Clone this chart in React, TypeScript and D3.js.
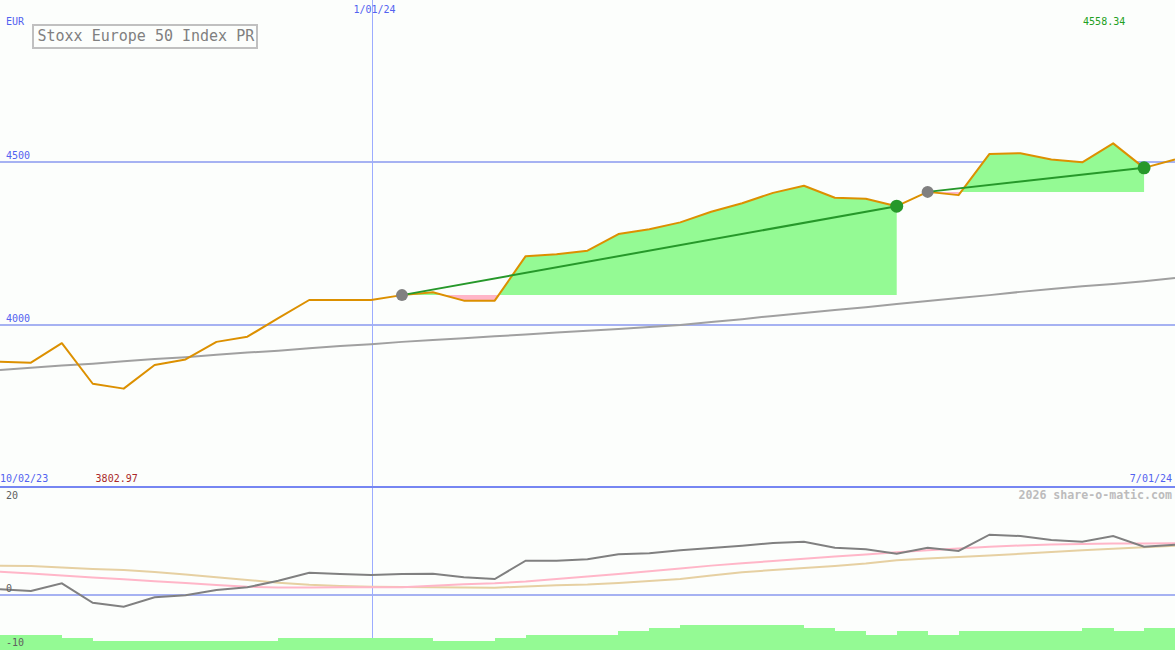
import React from 'react';
import * as d3 from 'd3';

const W = 1175;
const H = 650;

// weekly closes, Stoxx Europe 50 Index PR
const price = [3886, 3883, 3943, 3818, 3802.97, 3876, 3893, 3947, 3963, 4020, 4076, 4076, 4076, 4091, 4100, 4074, 4074, 4211, 4217, 4228, 4279, 4294, 4315, 4348, 4374, 4406, 4428, 4391, 4388, 4365, 4409, 4399, 4526, 4528, 4509, 4500, 4558.34, 4483, 4509];
// long moving average (grey)
const longMa = [3860, 3867, 3874, 3880, 3887, 3894, 3900, 3907, 3914, 3920, 3927, 3934, 3940, 3947, 3953, 3958, 3964, 3970, 3976, 3981, 3987, 3993, 3999, 4008, 4017, 4027, 4036, 4045, 4054, 4064, 4073, 4082, 4091, 4101, 4110, 4118, 4125, 4134, 4144];

// lower panel
const momentum = [1.06, 0.74, 2.17, -1.43, -2.17, -0.43, -0.06, 0.93, 1.43, 2.65, 4.13, 3.89, 3.7, 3.89, 3.94, 3.28, 2.96, 6.35, 6.35, 6.61, 7.54, 7.72, 8.28, 8.7, 9.13, 9.63, 9.87, 8.76, 8.46, 7.65, 8.76, 8.15, 11.17, 10.93, 10.19, 9.87, 10.93, 8.94, 9.31];
const signalPink = [4.31, 3.96, 3.61, 3.26, 2.91, 2.56, 2.22, 1.85, 1.52, 1.39, 1.39, 1.43, 1.43, 1.43, 1.72, 1.98, 2.17, 2.5, 2.96, 3.43, 3.89, 4.39, 4.91, 5.44, 5.87, 6.3, 6.7, 7.11, 7.52, 7.91, 8.28, 8.63, 8.94, 9.17, 9.33, 9.44, 9.52, 9.56, 9.57];
const signalTan = [5.43, 5.37, 5.09, 4.81, 4.63, 4.26, 3.8, 3.28, 2.78, 2.28, 1.91, 1.67, 1.54, 1.48, 1.43, 1.39, 1.35, 1.57, 1.8, 1.94, 2.22, 2.59, 2.96, 3.61, 4.2, 4.63, 5.0, 5.37, 5.83, 6.44, 6.76, 7.04, 7.31, 7.63, 7.96, 8.28, 8.56, 8.83, 9.13];
const strength = [-7.4, -7.4, -8.0, -8.5, -8.5, -8.5, -8.5, -8.5, -8.5, -8.0, -8.0, -8.0, -8.0, -8.0, -8.5, -8.5, -8.0, -7.4, -7.4, -7.4, -6.7, -6.1, -5.6, -5.6, -5.6, -5.6, -6.1, -6.7, -7.4, -6.7, -7.4, -6.7, -6.7, -6.7, -6.7, -6.1, -6.7, -6.1];

// trades (week index)
const tradeEntry = [13, 30];
const tradeExit = [29, 37];

const mainGrid = [4000, 4500];
const lowTicks = [20, 0, -10];
const startLabel = '10/02/23';
const endLabel = '7/01/24';
const yearLabel = '1/01/24';
const yearIdx = 12;
const title = 'Stoxx Europe 50 Index PR';

const FONT = '"DejaVu Sans Mono", monospace';
const BLUE = '#5262f0';
const GRID = '#a6b2f2';

export default function App() {
  const xs = d3.scaleLinear().domain([0, price.length - 1]).range([0, W]);
  const yMain = d3.scaleLinear().domain([3500, 5000]).range([487, 0]);
  const yLow = d3.scaleLinear().domain([-10, 20]).range([649, 487]);

  const mainLine = d3.line<number>().x((_, i) => xs(i)).y(d => yMain(d));
  const lowLine = d3.line<number>().x((_, i) => xs(i)).y(d => yLow(d));

  const maxIdx = price.indexOf(d3.max(price)!);
  const minIdx = price.indexOf(d3.min(price)!);
  const panelBottom = yMain(3500);
  const yearX = Math.round(xs(yearIdx)) + 1.5;

  return (
    <>
      <style>{`body{margin:0;background:#fcfefc}`}</style>
      <svg width={W} height={H} style={{ display: 'block', background: '#fcfefc' }}>
        <defs>
          {tradeEntry.map((e, t) => (
            <React.Fragment key={t}>
              <clipPath id={`up-${t}`}>
                <rect x={0} y={0} width={W} height={yMain(price[e])} />
              </clipPath>
              <clipPath id={`dn-${t}`}>
                <rect x={0} y={yMain(price[e])} width={W} height={panelBottom - yMain(price[e])} />
              </clipPath>
            </React.Fragment>
          ))}
        </defs>

        {/* grid */}
        {mainGrid.map(v => (
          <line key={v} x1={0} x2={W} y1={yMain(v)} y2={yMain(v)} stroke={GRID} strokeWidth={2} shapeRendering="crispEdges" />
        ))}
        <line x1={0} x2={W} y1={yLow(0)} y2={yLow(0)} stroke={GRID} strokeWidth={2} shapeRendering="crispEdges" />
        <line x1={yearX} x2={yearX} y1={0} y2={H} stroke="#9cacff" strokeWidth={1} />

        {/* trade fills */}
        {tradeEntry.map((e, t) => {
          const idx = d3.range(e, tradeExit[t] + 1);
          const base = yMain(price[e]);
          const area = d3.area<number>().x(i => xs(i)).y0(base).y1(i => yMain(price[i]))(idx) || '';
          return (
            <g key={t}>
              <path d={area} fill="#94fa94" clipPath={`url(#up-${t})`} />
              <path d={area} fill="#ffb6c8" clipPath={`url(#dn-${t})`} />
            </g>
          );
        })}

        {/* lower panel bars */}
        {strength.map((v, i) => (
          <rect key={i} x={xs(i)} width={xs(i + 1) - xs(i) + 0.5} y={yLow(v)} height={H - yLow(v)} fill="#94fa94" shapeRendering="crispEdges" />
        ))}

        {/* long MA */}
        <path d={mainLine(longMa) || ''} fill="none" stroke="#a0a0a0" strokeWidth={2} />

        {/* price */}
        <path d={mainLine(price) || ''} fill="none" stroke="#dc9000" strokeWidth={2} strokeLinejoin="round" />

        {/* trade lines and markers */}
        {tradeEntry.map((e, t) => {
          const x = tradeExit[t];
          return (
            <g key={t}>
              <line x1={xs(e)} y1={yMain(price[e])} x2={xs(x)} y2={yMain(price[x])} stroke="#26982a" strokeWidth={2} />
              <circle cx={xs(e)} cy={yMain(price[e])} r={6} fill="#808080" />
              <circle cx={xs(x)} cy={yMain(price[x])} r={6.5} fill="#26982a" />
            </g>
          );
        })}

        {/* lower lines */}
        <path d={lowLine(signalTan) || ''} fill="none" stroke="#e6d0a2" strokeWidth={2} />
        <path d={lowLine(signalPink) || ''} fill="none" stroke="#ffb6c8" strokeWidth={2} />
        <path d={lowLine(momentum) || ''} fill="none" stroke="#808080" strokeWidth={2} />

        {/* separator */}
        <line x1={0} x2={W} y1={panelBottom} y2={panelBottom} stroke="#7686f2" strokeWidth={2} shapeRendering="crispEdges" />

        {/* texts */}
        <g fontFamily={FONT} fontSize={10}>
          <text x={6} y={25} fill={BLUE}>EUR</text>
          <text x={yearX + 2} y={13} fill={BLUE} textAnchor="middle">{yearLabel}</text>
          {mainGrid.map(v => (
            <text key={v} x={6} y={yMain(v) - 3} fill={BLUE}>{v}</text>
          ))}
          <text x={xs(maxIdx) - 9} y={25} fill="#22a022" textAnchor="middle">{d3.format('.2f')(price[maxIdx])}</text>
          <text x={0} y={482} fill={BLUE}>{startLabel}</text>
          <text x={xs(minIdx) - 7} y={482} fill="#aa2828" textAnchor="middle">{d3.format('.2f')(price[minIdx])}</text>
          <text x={1172} y={482} fill={BLUE} textAnchor="end">{endLabel}</text>
          {lowTicks.map(v => (
            <text key={v} x={6} y={v === 20 ? 499 : v === 0 ? 592 : 646} fill="#606060">{v}</text>
          ))}
          <text x={1172} y={499} fill="#bcbcbc" fontSize={11.6} fontWeight="bold" textAnchor="end">2026 share-o-matic.com</text>
        </g>

        {/* title box */}
        <rect x={33} y={25} width={224} height={23} fill="#fcfefc" stroke="#c0c0c0" strokeWidth={2} />
        <text x={37.5} y={41} fontFamily={FONT} fontSize={15} fill="#808080">{title}</text>
      </svg>
    </>
  );
}
